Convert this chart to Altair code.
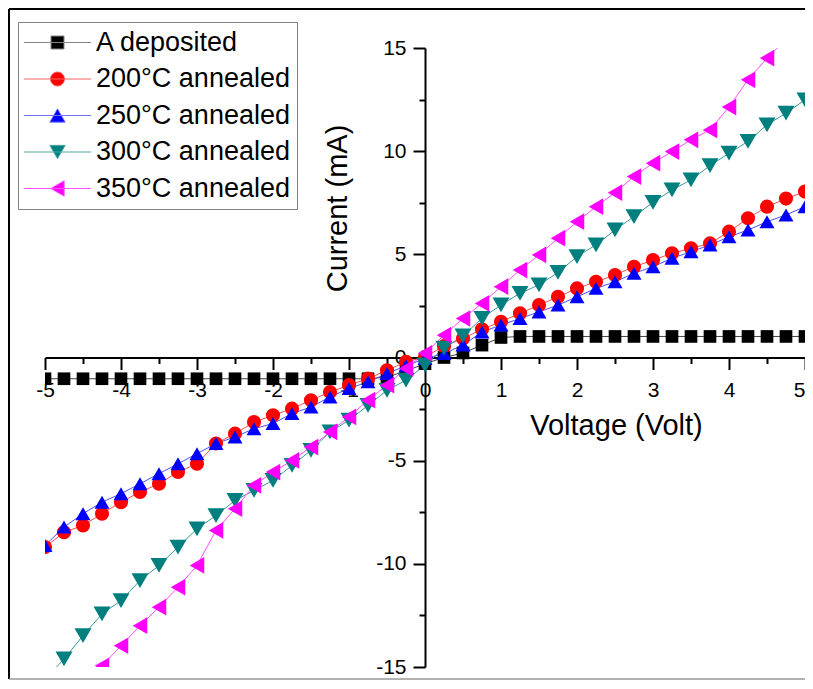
import altair as alt
import pandas as pd

# ---------------- data ----------------
voltage = [-5.0, -4.75, -4.5, -4.25, -4.0, -3.75, -3.5, -3.25, -3.0, -2.75,
           -2.5, -2.25, -2.0, -1.75, -1.5, -1.25, -1.0, -0.75, -0.5, -0.25,
           0.0, 0.25, 0.5, 0.75, 1.0, 1.25, 1.5, 1.75, 2.0, 2.25,
           2.5, 2.75, 3.0, 3.25, 3.5, 3.75, 4.0, 4.25, 4.5, 4.75, 5.0]

series_names = ["A deposited", "200°C annealed", "250°C annealed",
                "300°C annealed", "350°C annealed"]

current_a_deposited = [-1.03, -1.03, -1.03, -1.03, -1.03, -1.03, -1.03, -1.03, -1.03, -1.03,
                       -1.03, -1.03, -1.03, -1.03, -1.03, -1.03, -1.03, -1.03, -0.95, -0.65,
                       -0.30, 0.00, 0.22, 0.60, 0.97, 1.02, 1.02, 1.02, 1.02, 1.02,
                       1.02, 1.02, 1.02, 1.02, 1.02, 1.02, 1.02, 1.02, 1.02, 1.02, 1.02]

current_200 = [-9.19, -8.47, -8.14, -7.57, -7.01, -6.52, -6.12, -5.55, -5.15, -4.17,
               -3.69, -3.13, -2.80, -2.48, -2.07, -1.67, -1.34, -1.02, -0.62, -0.21,
               0.03, 0.55, 0.92, 1.37, 1.73, 2.14, 2.54, 2.94, 3.35, 3.67,
               4.00, 4.40, 4.72, 5.05, 5.29, 5.53, 6.10, 6.75, 7.31, 7.70, 8.04]

current_250 = [-9.11, -8.22, -7.57, -7.01, -6.60, -6.12, -5.63, -5.15, -4.66, -4.17,
               -3.85, -3.45, -3.20, -2.72, -2.40, -1.91, -1.50, -1.18, -0.78, -0.40,
               -0.05, 0.19, 0.60, 1.24, 1.57, 1.89, 2.21, 2.54, 2.94, 3.35,
               3.67, 4.08, 4.40, 4.81, 5.13, 5.45, 5.85, 6.18, 6.58, 6.91, 7.31]

current_300 = [-15.60, -14.61, -13.48, -12.43, -11.78, -10.81, -10.08, -9.19, -8.30, -7.66,
               -6.93, -6.44, -5.96, -5.23, -4.50, -3.61, -3.04, -2.32, -1.59, -1.10,
               -0.37, 0.45, 1.05, 1.90, 2.55, 3.11, 3.52, 4.12, 4.89, 5.46,
               6.18, 6.83, 7.52, 8.12, 8.61, 9.30, 9.90, 10.47, 11.28, 11.84, 12.49]

current_350 = [-17.40, -16.60, -15.80, -14.94, -13.97, -13.00, -12.10, -11.13, -10.08, -8.38,
               -7.33, -6.20, -5.55, -4.99, -4.34, -3.61, -2.88, -2.07, -1.34, -0.53,
               0.20, 1.08, 1.89, 2.62, 3.43, 4.24, 4.97, 5.78, 6.58, 7.31,
               7.99, 8.77, 9.42, 9.98, 10.55, 11.03, 12.14, 13.46, 14.51, 15.40, 16.30]

all_currents = [current_a_deposited, current_200, current_250, current_300, current_350]

x_tick_values = [-5, -4.5, -4, -3.5, -3, -2.5, -2, -1.5, -1, -0.5, 0,
                 0.5, 1, 1.5, 2, 2.5, 3, 3.5, 4, 4.5, 5]
y_tick_values = [-15, -12.5, -10, -7.5, -5, -2.5, 0, 2.5, 5, 7.5, 10, 12.5, 15]

# ---------------- styles ----------------
marker_colors = ["#000000", "#FF0000", "#0000FF", "#007F7F", "#FF00FF"]
line_colors = ["#444444", "#FF4D4D", "#4D4DFF", "#3A9A9A", "#FF4DFF"]
legend_line_colors = ["#888888", "#FF6060", "#7070FF", "#50A8A8", "#FF50FF"]
marker_shapes = ["square", "circle", "triangle-up", "triangle-down", "triangle-left"]
marker_sizes = [160, 200, 225, 290, 280]
# legend glyphs: a short line with the marker in the middle (unit = 7 px)
legend_paths = [
    "M-4.8,0H4.8M-0.93,-0.93H0.93V0.93H-0.93Z",
    "M-4.8,0H4.8M-1,0A1,1 0 1,0 1,0A1,1 0 1,0 -1,0Z",
    "M-4.8,0H4.8M0,-0.95L1.1,0.95L-1.1,0.95Z",
    "M-4.8,0H4.8M0,0.95L1.1,-0.95L-1.1,-0.95Z",
    "M-4.8,0H4.8M-0.95,0L0.95,-1.1L0.95,1.1Z",
]

FONT = "Liberation Sans"
W, H = 760, 619
PAD = {"left": 37, "top": 40, "right": 0, "bottom": 13}

rows = []
for name, vals in zip(series_names, all_currents):
    for v, c in zip(voltage, vals):
        rows.append({"Voltage": v, "Current": c, "Series": name})
df = pd.DataFrame(rows)

x_axis = alt.Axis(
    values=x_tick_values, orient="bottom", offset=-H / 2,
    domain=True, domainColor="black", domainWidth=2,
    ticks=True, tickColor="black", tickWidth=2,
    tickSize={"condition": {"test": "datum.value % 1 === 0", "value": 12}, "value": 6},
    labelExpr="datum.value % 1 === 0 ? '' + datum.value : ''",
    labelAlign={"condition": {"test": "datum.value === 5", "value": "right"}, "value": "center"},
    labelFont=FONT, labelFontSize=21, labelColor="black", labelPadding=10,
    labelFlush=False, labelOverlap=False, grid=False,
    title="Voltage (Volt)", titleFont=FONT, titleFontSize=29, titleFontWeight="normal",
    titleColor="black", titleX=571, titleY=77, titleBaseline="alphabetic", titleAlign="center",
)
y_axis = alt.Axis(
    values=y_tick_values, orient="left", offset=-W / 2,
    domain=True, domainColor="black", domainWidth=2,
    ticks=True, tickColor="black", tickWidth=2,
    tickSize={"condition": {"test": "datum.value % 5 === 0", "value": 12}, "value": 6},
    labelExpr="datum.value % 5 === 0 ? '' + datum.value : ''",
    labelFont=FONT, labelFontSize=21, labelColor="black", labelPadding=7,
    labelOverlap=False, grid=False,
    title="Current (mA)", titleFont=FONT, titleFontSize=29, titleFontWeight="normal",
    titleColor="black", titleX=-79, titleY=160, titleAngle=270,
    titleBaseline="alphabetic", titleAlign="center",
)

base = alt.Chart(df).encode(
    x=alt.X("Voltage:Q", scale=alt.Scale(domain=[-5, 5], nice=False, zero=False), axis=x_axis),
    y=alt.Y("Current:Q", scale=alt.Scale(domain=[-15, 15], nice=False, zero=False), axis=y_axis),
)

layers = []
for name, lc in zip(series_names, line_colors):
    layers.append(
        base.transform_filter(alt.FieldEqualPredicate(field="Series", equal=name))
        .mark_line(color=lc, strokeWidth=1, clip=True)
    )
for name, mc, shp, sz in zip(series_names, marker_colors, marker_shapes, marker_sizes):
    layers.append(
        base.transform_filter(alt.FieldEqualPredicate(field="Series", equal=name))
        .mark_point(filled=True, color=mc, shape=shp, size=sz, opacity=1, clip=True)
    )

legend = alt.Legend(
    title=None, orient="none", legendX=-27, legendY=-26,
    symbolSize=196, symbolStrokeWidth=1, symbolOffset=19,
    labelFont=FONT, labelFontSize=27, labelColor="black", labelLimit=400,
    labelOffset=25, rowPadding=8.5, padding=7,
    strokeColor="#808080", fillColor="white",
)
legend_layer = base.transform_filter("false").mark_point(filled=True, strokeWidth=1, opacity=1).encode(
    fill=alt.Fill("Series:N", scale=alt.Scale(domain=series_names, range=marker_colors), legend=legend),
    stroke=alt.Stroke("Series:N", scale=alt.Scale(domain=series_names, range=legend_line_colors), legend=legend),
    shape=alt.Shape("Series:N", scale=alt.Scale(domain=series_names, range=legend_paths), legend=legend),
)
layers.append(legend_layer)

frame_df = pd.DataFrame({"frame": [0]})
right_px = W + 20
bottom_px = H + PAD["bottom"] - 1
top_rule = alt.Chart(frame_df).mark_rule(color="black", strokeWidth=2).encode(
    x=alt.value(-36), x2=alt.value(right_px), y=alt.value(-39))
left_rule = alt.Chart(frame_df).mark_rule(color="black", strokeWidth=2).encode(
    x=alt.value(-36), y=alt.value(-39), y2=alt.value(bottom_px))
bottom_rule = alt.Chart(frame_df).mark_rule(color="#999999", strokeWidth=1.5).encode(
    x=alt.value(-36), x2=alt.value(right_px), y=alt.value(bottom_px))
layers += [top_rule, left_rule, bottom_rule]

chart = alt.layer(*layers).properties(
    width=W, height=H, padding=PAD,
    autosize=alt.AutoSizeParams(type="none"),
    background="white",
).configure_view(stroke=None)

chart.save("out.html", embed_options={"renderer": "svg", "actions": False})
